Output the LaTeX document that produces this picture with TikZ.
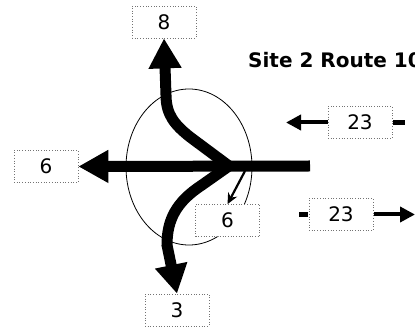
\documentclass[tikz,border=0pt]{standalone}
\usepackage{fontspec}
\setmainfont{DejaVu Sans}
\usetikzlibrary{arrows.meta}
\begin{document}
\begin{tikzpicture}[x=1pt,y=-1pt,
  numbox/.style={draw=black!55,dotted,line width=0.7pt,fill=white,minimum width=64pt,minimum height=32pt,inner sep=0pt,font=\fontsize{20}{22}\selectfont},
  bigarrow/.style={line width=11pt,line join=miter,-{Triangle[length=30pt,width=31pt]}},
  bigboth/.style={line width=11pt,line join=miter,{Triangle[length=30pt,width=31pt]}-{Triangle[length=29pt,width=31pt]}},
  midarrow/.style={line width=4pt,-{Triangle[length=15pt,width=15pt]}},
  stub/.style={line width=4.5pt},
  thinarrow/.style={line width=2.2pt,-{Stealth[length=11pt,width=10pt]}},
  ring/.style={draw=black,line width=0.8pt}]
\useasboundingbox (0,0) rectangle (415,328);
\clip (0,0) rectangle (415,328);
% ellipse
\draw[ring] (189,167) ellipse [x radius=63pt, y radius=78pt];
% boxes
\node[numbox] (b8) at (164,22) {8};
\node[numbox] (b6l) at (46,166.5) {6};
\node[numbox] (b3) at (177,310) {3};
\node[numbox] (u23) at (360,122.5) {23};
\node[numbox] (l23) at (341,214.5) {23};
% title
\node[anchor=base west,inner sep=0pt,font=\fontsize{20}{24}\selectfont\bfseries] (title) at (248,68) {Site 2 Route 10};
% main horizontal arrow
\coordinate (east) at (310,166);
\draw[bigarrow] (east) -- (b6l.east);
% up and down arrows through junction
\draw[bigboth] (b8.south) -- (166,95) .. controls (166,115) and (175,125) .. (190,137) -- (229,166)
  -- (202,185) .. controls (176,202) and (167,220) .. (167,245) -- (b3.north);
% small box drawn over ellipse
\node[numbox] (b6s) at (227.5,220.5) {6};
\coordinate (sstart) at (245,171);
\draw[thinarrow] (sstart) -- (b6s.north);
% 23 arrows
\coordinate (uleft) at (286,122.5);
\coordinate (uright) at (405,122.5);
\coordinate (lleft) at (299,214.5);
\coordinate (lright) at (415,214.5);
\draw[midarrow] (u23.west) -- (uleft);
\draw[stub] ([xshift=1pt]u23.east) -- (uright);
\draw[stub] (lleft) -- ([xshift=-1pt]l23.west);
\draw[midarrow] ([xshift=1pt]l23.east) -- (lright);
\end{tikzpicture}
\end{document}
